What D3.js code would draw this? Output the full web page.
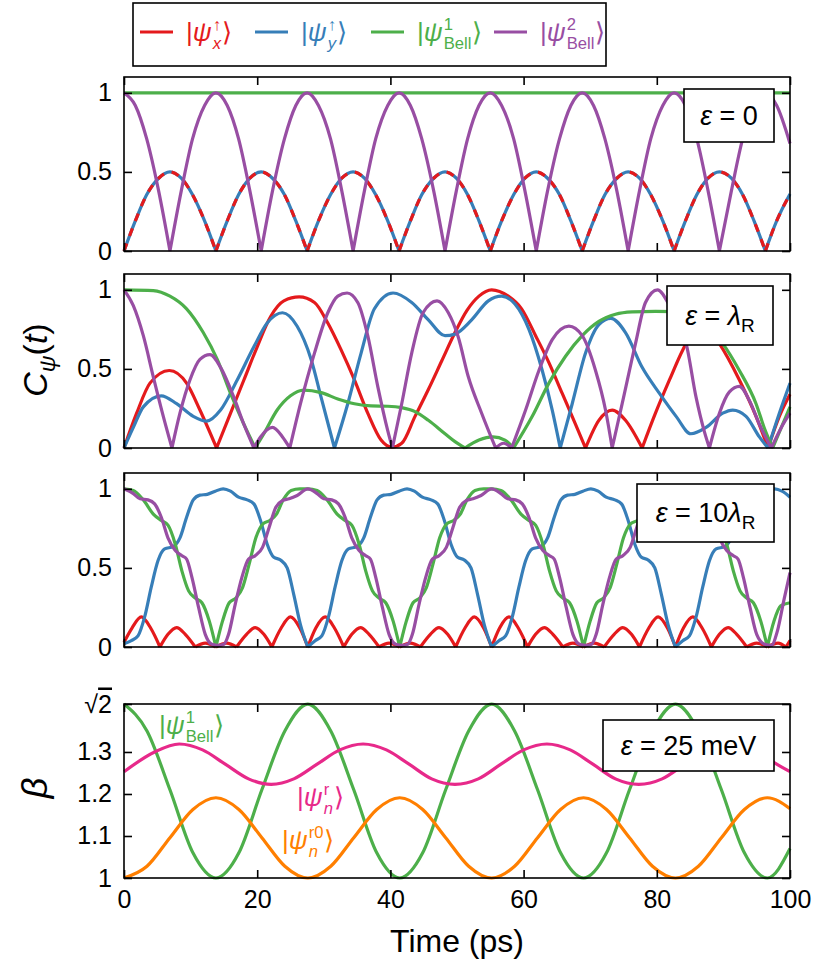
<!DOCTYPE html>
<html>
<head>
<meta charset="utf-8">
<script src="https://cdn.jsdelivr.net/npm/d3@7"></script>
<style>
  body { margin: 0; background: #fff; }
</style>
</head>
<body>
<div id="chart"></div>
<script>
// ---- values, t in ps ----
var timeTicks = [0, 20, 40, 60, 80, 100];
var cTicks = [0, 0.5, 1];
var betaTicks = [1, 1.1, 1.2, 1.3, Math.SQRT2];

// panel 1 : eps = 0  (x and y spin states lie on top of each other)
var p1SpinX = [[0,0],[1.7,0.19],[3.4,0.355],[5.2,0.46],[6.9,0.5],[8.6,0.46],[10.3,0.355],[12.1,0.19],[13.8,0],
  [15.5,0.19],[17.2,0.355],[18.9,0.46],[20.6,0.5],[22.3,0.46],[24.1,0.355],[25.8,0.19],[27.5,0],
  [29.2,0.19],[31,0.355],[32.7,0.46],[34.4,0.5],[36.1,0.46],[37.8,0.355],[39.6,0.19],[41.3,0],
  [43,0.19],[44.7,0.355],[46.5,0.46],[48.2,0.5],[49.9,0.46],[51.6,0.355],[53.3,0.19],[55,0],
  [56.7,0.19],[58.5,0.355],[60.2,0.46],[61.9,0.5],[63.6,0.46],[65.4,0.355],[67.1,0.19],[68.8,0],
  [70.5,0.19],[72.2,0.355],[74,0.46],[75.7,0.5],[77.4,0.46],[79.1,0.355],[80.9,0.19],[82.6,0],
  [84.3,0.19],[86,0.355],[87.7,0.46],[89.4,0.5],[91.2,0.46],[92.9,0.355],[94.6,0.19],[96.3,0],
  [98,0.19],[100,0.36]];
var p1SpinY = p1SpinX;
var p1Bell1 = [[0,1],[100,1]];
var p1Bell2 = [[0,1],[1.7,0.92],[3.4,0.71],[5.2,0.38],[6.9,0],
  [8.6,0.38],[10.3,0.71],[12.1,0.92],[13.8,1],[15.5,0.92],[17.2,0.71],[18.9,0.38],[20.6,0],
  [22.3,0.38],[24.1,0.71],[25.8,0.92],[27.5,1],[29.2,0.92],[31,0.71],[32.7,0.38],[34.4,0],
  [36.1,0.38],[37.8,0.71],[39.6,0.92],[41.3,1],[43,0.92],[44.7,0.71],[46.5,0.38],[48.2,0],
  [49.9,0.38],[51.6,0.71],[53.3,0.92],[55,1],[56.7,0.92],[58.5,0.71],[60.2,0.38],[61.9,0],
  [63.6,0.38],[65.4,0.71],[67.1,0.92],[68.8,1],[70.5,0.92],[72.2,0.71],[74,0.38],[75.7,0],
  [77.4,0.38],[79.1,0.71],[80.9,0.92],[82.6,1],[84.3,0.92],[86,0.71],[87.7,0.38],[89.4,0],
  [91.2,0.38],[92.9,0.71],[94.6,0.92],[96.3,1],[98,0.92],[100,0.68]];

// panel 2 : eps = lambda_R
var p2SpinX = [[0,0],[1.9,0.22],[3.9,0.41],[6.8,0.49],[9.4,0.41],[11.4,0.24],[13.9,0],
  [16,0.22],[18,0.43],[20,0.64],[22,0.83],[24,0.93],[26.3,0.955],[28.6,0.92],[30.6,0.79],[32.6,0.62],
  [34.6,0.43],[36.6,0.22],[38.6,0.05],[40.2,0.005],[41.7,0.03],[43.7,0.2],[45.7,0.37],[47.7,0.55],
  [49.7,0.73],[51.5,0.87],[53.3,0.96],[55.2,1],[57.7,0.96],[59.7,0.88],[61.8,0.71],[63.8,0.54],
  [65.8,0.345],[67.8,0.15],[69.3,0],
  [71.3,0.175],[73.3,0.24],[75.3,0.175],[77.8,0],
  [79.8,0.22],[81.9,0.43],[83.9,0.62],[86.7,0.8],[89.4,0.66],[92.4,0.43],[94.9,0.2],[96.7,0],
  [98.4,0.2],[100,0.34]];
var p2SpinY = [[0,0],[1.4,0.13],[2.9,0.26],[5.6,0.33],[7.9,0.28],[10.4,0.2],[12.4,0.17],[14.5,0.24],
  [17,0.43],[19.5,0.64],[21.5,0.79],[23.8,0.855],[26,0.77],[28.1,0.56],[29.6,0.32],[31.6,0],
  [33.6,0.28],[35.6,0.6],[37.6,0.88],[40.4,0.98],[43.2,0.92],[45.7,0.81],[48.2,0.71],[49.7,0.72],
  [52.2,0.81],[54.7,0.93],[56.7,0.96],[58.7,0.91],[60.8,0.75],[62.8,0.49],[64.3,0.24],[65.5,0],
  [67.3,0.28],[69.3,0.6],[71.3,0.78],[73.1,0.82],[75.3,0.73],[77.8,0.51],[80.4,0.345],[82.9,0.2],
  [85.1,0.09],[87.4,0.13],[89.9,0.22],[91.4,0.24],[93.4,0.2],[95.4,0.07],[96.7,0],
  [98.4,0.22],[100,0.41]];
var p2Bell1 = [[0,1],[4.4,0.995],[6.9,0.96],[9.4,0.88],[11.9,0.73],[14,0.56],[16,0.345],[18,0.15],[19.7,0],
  [21,0.09],[23,0.24],[25,0.33],[27,0.366],[29.6,0.35],[32.1,0.31],[34.6,0.28],[37.1,0.266],
  [39.6,0.264],[41.7,0.255],[43.7,0.23],[45.7,0.175],[48.2,0.09],[49.7,0.04],[51.2,0],
  [53.3,0.05],[55.4,0.07],[57.2,0.05],[58.5,0],
  [61.3,0.2],[63.8,0.41],[66.3,0.58],[68.8,0.71],[71.3,0.8],[73.8,0.845],[76.3,0.86],[79.8,0.864],
  [82.5,0.862],[85,0.84],[87.5,0.77],[89.9,0.66],[92.4,0.49],[94.9,0.28],[96.2,0.12],[97.4,0],
  [98.7,0.13],[100,0.26]];
var p2Bell2 = [[0,1],[1.4,0.9],[2.9,0.71],[4.4,0.45],[5.9,0.2],[7.2,0],
  [8.4,0.22],[9.9,0.43],[11.4,0.56],[12.9,0.59],[14.5,0.51],[16.5,0.32],[18,0.15],[19.5,0],
  [20.5,0.07],[22.3,0.13],[23.8,0.07],[24.9,0],
  [26.5,0.28],[28.6,0.6],[30.6,0.855],[32.1,0.96],[33.5,0.98],[35.1,0.92],[36.6,0.71],[38.1,0.39],[39.6,0.11],[40.3,0],
  [41.7,0.28],[43.2,0.6],[44.9,0.855],[47,0.93],[48.7,0.855],[50.2,0.7],[51.7,0.45],[53.7,0.22],[55.8,0],
  [57,0.03],[58.2,0],
  [60.3,0.24],[62.3,0.49],[64.3,0.685],[66.8,0.77],[68.8,0.71],[70.8,0.49],[72.3,0.24],[73.3,0],
  [74.8,0.28],[76.8,0.66],[78.3,0.92],[80.1,1],[81.9,0.9],[83.2,0.78],[84.4,0.66],[85.9,0.32],[87.1,0.11],[87.9,0],
  [89.4,0.22],[90.9,0.355],[92.4,0.39],[93.9,0.3],[95.4,0.15],[97.2,0],
  [98.7,0.13],[100,0.22]];

// panel 3 : eps = 10 lambda_R
var p3SpinX = [[0,0.03],[1.2,0.12],[2.6,0.19],[4,0.12],[5.4,0],[6.6,0.08],[7.9,0.123],[9.2,0.08],[10.7,0],
  [12.2,0.025],[13.8,0],[15.4,0.025],[16.9,0],[18.4,0.08],[19.7,0.123],[21,0.08],[22.2,0],[23.6,0.12],[25,0.19],[26.4,0.12],
  [27.6,0],[28.8,0.12],[30.2,0.19],[31.6,0.12],[33,0],[34.2,0.08],[35.5,0.123],[36.8,0.08],[38.3,0],
  [39.8,0.025],[41.4,0],[43,0.025],[44.5,0],[46,0.08],[47.3,0.123],[48.6,0.08],[49.8,0],[51.2,0.12],[52.6,0.19],[54,0.12],
  [55.2,0],[56.4,0.12],[57.8,0.19],[59.2,0.12],[60.6,0],[61.8,0.08],[63.1,0.123],[64.4,0.08],[65.9,0],
  [67.4,0.025],[69,0],[70.6,0.025],[72.1,0],[73.6,0.08],[74.9,0.123],[76.2,0.08],[77.4,0],[78.8,0.12],[80.2,0.19],[81.6,0.12],
  [82.8,0],[84,0.12],[85.4,0.19],[86.8,0.12],[88.2,0],[89.4,0.08],[90.7,0.123],[92,0.08],[93.5,0],
  [95,0.025],[96.6,0],[98.2,0.025],[99.4,0],[100,0.04]];
var p3SpinY = [[0,0.02],[1.1,0.04],[2.1,0.07],[3.1,0.19],[4.1,0.38],[5.1,0.545],[6.1,0.62],[7.4,0.635],[8.4,0.69],
  [9.4,0.82],[10.4,0.93],[11.4,0.96],[12.5,0.965],[13.7,0.985],[14.9,1],[16,0.985],[17.2,0.947],[18.5,0.93],
  [19.5,0.905],[20.5,0.8],[21.5,0.65],[22.5,0.567],[23.5,0.55],[24.5,0.5],[25.5,0.33],[26.5,0.14],
  [27.6,0],[28.7,0.04],[29.7,0.07],[30.7,0.19],[31.7,0.38],[32.7,0.545],[33.7,0.62],[35,0.635],[36,0.69],
  [37,0.82],[38,0.93],[39,0.96],[40.1,0.965],[41.3,0.985],[42.5,1],[43.6,0.985],[44.8,0.947],[46.1,0.93],
  [47.1,0.905],[48.1,0.8],[49.1,0.65],[50.1,0.567],[51.1,0.55],[52.1,0.5],[53.1,0.33],[54.1,0.14],
  [55.2,0],[56.3,0.04],[57.3,0.07],[58.3,0.19],[59.3,0.38],[60.3,0.545],[61.3,0.62],[62.6,0.635],[63.6,0.69],
  [64.6,0.82],[65.6,0.93],[66.6,0.96],[67.7,0.965],[68.9,0.985],[70.1,1],[71.2,0.985],[72.4,0.947],[73.7,0.93],
  [74.7,0.905],[75.7,0.8],[76.7,0.65],[77.7,0.567],[78.7,0.55],[79.7,0.5],[80.7,0.33],[81.7,0.14],
  [82.8,0],[83.9,0.04],[84.9,0.07],[85.9,0.19],[86.9,0.38],[87.9,0.545],[88.9,0.62],[90.2,0.635],[91.2,0.69],
  [92.2,0.82],[93.2,0.93],[94.2,0.96],[95.3,0.965],[96.5,0.985],[97.7,1],[98.8,0.985],[100,0.947]];
var p3Bell1 = [[0,1],[1.4,0.99],[2.9,0.93],[4.4,0.84],[5.6,0.8],[6.6,0.77],[7.7,0.65],[8.7,0.48],[9.7,0.355],
  [10.7,0.31],[11.7,0.28],[12.8,0.165],[13.8,0],[14.8,0.165],[15.8,0.28],[16.8,0.31],[17.8,0.375],[18.8,0.525],
  [19.8,0.69],[20.9,0.78],[21.9,0.8],[22.9,0.84],[23.9,0.93],[25.1,0.99],[26.4,1],
  [27.6,1],[29,0.99],[30.5,0.93],[32,0.84],[33.2,0.8],[34.2,0.77],[35.3,0.65],[36.3,0.48],[37.3,0.355],
  [38.3,0.31],[39.3,0.28],[40.4,0.165],[41.4,0],[42.4,0.165],[43.4,0.28],[44.4,0.31],[45.4,0.375],[46.4,0.525],
  [47.4,0.69],[48.5,0.78],[49.5,0.8],[50.5,0.84],[51.5,0.93],[52.7,0.99],[54,1],
  [55.2,1],[56.6,0.99],[58.1,0.93],[59.6,0.84],[60.8,0.8],[61.8,0.77],[62.9,0.65],[63.9,0.48],[64.9,0.355],
  [65.9,0.31],[66.9,0.28],[68,0.165],[69,0],[70,0.165],[71,0.28],[72,0.31],[73,0.375],[74,0.525],
  [75,0.69],[76.1,0.78],[77.1,0.8],[78.1,0.84],[79.1,0.93],[80.3,0.99],[81.6,1],
  [82.8,1],[84.2,0.99],[85.7,0.93],[87.2,0.84],[88.4,0.8],[89.4,0.77],[90.5,0.65],[91.5,0.48],[92.5,0.355],
  [93.5,0.31],[94.5,0.28],[95.6,0.165],[96.6,0],[97.6,0.165],[98.6,0.26],[100,0.28]];
var p3Bell2 = [[0,1],[1.4,0.97],[2.4,0.937],[3.6,0.93],[4.6,0.905],[5.6,0.82],[6.6,0.69],[7.7,0.61],[8.7,0.577],
  [9.4,0.556],[10.2,0.44],[11.2,0.25],[12.2,0.08],[13.2,0.017],[14.2,0.01],[15,0.017],[15.7,0.08],[16.7,0.27],
  [17.7,0.44],[18.7,0.556],[19.7,0.577],[20.8,0.63],[21.8,0.757],[22.8,0.884],[23.8,0.926],[24.8,0.937],[26,0.958],
  [27.6,1],[29,0.97],[30,0.937],[31.2,0.93],[32.2,0.905],[33.2,0.82],[34.2,0.69],[35.3,0.61],[36.3,0.577],
  [37,0.556],[37.8,0.44],[38.8,0.25],[39.8,0.08],[40.8,0.017],[41.8,0.01],[42.6,0.017],[43.3,0.08],[44.3,0.27],
  [45.3,0.44],[46.3,0.556],[47.3,0.577],[48.4,0.63],[49.4,0.757],[50.4,0.884],[51.4,0.926],[52.4,0.937],[53.6,0.958],
  [55.2,1],[56.6,0.97],[57.6,0.937],[58.8,0.93],[59.8,0.905],[60.8,0.82],[61.8,0.69],[62.9,0.61],[63.9,0.577],
  [64.6,0.556],[65.4,0.44],[66.4,0.25],[67.4,0.08],[68.4,0.017],[69.4,0.01],[70.2,0.017],[70.9,0.08],[71.9,0.27],
  [72.9,0.44],[73.9,0.556],[74.9,0.577],[76,0.63],[77,0.757],[78,0.884],[79,0.926],[80,0.937],[81.2,0.958],
  [82.8,1],[84.2,0.97],[85.2,0.937],[86.4,0.93],[87.4,0.905],[88.4,0.82],[89.4,0.69],[90.5,0.61],[91.5,0.577],
  [92.2,0.556],[93,0.44],[94,0.25],[95,0.08],[96.2,0.017],[97.2,0.01],[98.1,0.1],[99.1,0.3],[100,0.47]];

// panel 4 : beta at eps = 25 meV
var p4Bell1 = [[0,1.414],[3.45,1.35],[6.9,1.21],[10.35,1.06],[13.8,1],[17.25,1.06],[20.7,1.21],[24.15,1.35],
  [27.6,1.414],[31.05,1.35],[34.5,1.21],[37.95,1.06],[41.4,1],[44.85,1.06],[48.3,1.21],[51.75,1.35],
  [55.2,1.414],[58.65,1.35],[62.1,1.21],[65.55,1.06],[69,1],[72.45,1.06],[75.9,1.21],[79.35,1.35],
  [82.8,1.414],[86.25,1.35],[89.7,1.21],[93.15,1.06],[96.6,1],[100,1.07]];
var p4Rot = [[0,1.253],[4.6,1.3],[8.3,1.319],[11.8,1.305],[15.2,1.271],[18.7,1.236],[22.1,1.223],[25.5,1.236],
  [29,1.271],[32.4,1.305],[35.9,1.319],[39.4,1.305],[42.8,1.271],[46.2,1.236],[49.7,1.223],[53.2,1.236],
  [56.6,1.271],[60,1.305],[63.5,1.319],[67,1.305],[70.4,1.271],[73.8,1.236],[77.3,1.223],[80.8,1.236],
  [84.2,1.271],[87.6,1.305],[91.1,1.319],[94.6,1.305],[98,1.271],[100,1.253]];
var p4Rot0 = [[0,1],[3.45,1.028],[6.9,1.096],[10.35,1.163],[13.8,1.191],[17.25,1.163],[20.7,1.096],[24.15,1.028],
  [27.6,1],[31.05,1.028],[34.5,1.096],[37.95,1.163],[41.4,1.191],[44.85,1.163],[48.3,1.096],[51.75,1.028],
  [55.2,1],[58.65,1.028],[62.1,1.096],[65.55,1.163],[69,1.191],[72.45,1.163],[75.9,1.096],[79.35,1.028],
  [82.8,1],[86.25,1.028],[89.7,1.096],[93.15,1.163],[96.6,1.191],[100,1.165]];

// ---- layout ----
var width = 830, height = 965;
var left = 124, pw = 666, ph = 174;
var tops = [77, 274, 473, 704];
var font = "'Liberation Sans', Arial, Helvetica, sans-serif";
var col = { red: "#e41a1c", blue: "#377eb8", green: "#4daf4a", purple: "#984ea3", pink: "#e7298a", orange: "#ff7f00" };

var svg = d3.select("#chart").append("svg")
    .attr("width", width)
    .attr("height", height)
    .attr("font-family", font);

var x = d3.scaleLinear().domain([0, 100]).range([0, pw]);

// cut a series where it touches zero so the |amplitude| cusps stay sharp
function splitAtZeros(data) {
  var out = [], cur = [];
  data.forEach(function(d, i) {
    cur.push(d);
    if (d[1] === 0 && i > 0 && i < data.length - 1) { out.push(cur); cur = [d]; }
  });
  out.push(cur);
  return out;
}

function drawSeries(g, y, data, color, split, dash) {
  var line = d3.line()
      .x(function(d) { return x(d[0]); })
      .y(function(d) { return y(d[1]); })
      .curve(d3.curveMonotoneX);
  var segs = split ? splitAtZeros(data) : [data];
  g.append("path")
      .attr("d", segs.map(function(s) { return line(s); }).join(""))
      .attr("fill", "none")
      .attr("stroke", color)
      .attr("stroke-width", 3.2)
      .attr("stroke-linejoin", "round")
      .attr("stroke-dasharray", dash || null);
}

function drawAxes(g, y, yTicks, yFmt, showX) {
  var yAxis = g.append("g")
      .call(d3.axisLeft(y).tickValues(yTicks).tickSize(-8).tickPadding(12).tickFormat(yFmt));
  g.append("g")
      .attr("transform", "translate(" + pw + ",0)")
      .call(d3.axisRight(y).tickValues(yTicks).tickSize(-8).tickFormat(""));
  g.append("g")
      .call(d3.axisTop(x).tickValues(timeTicks).tickSize(-8).tickFormat(""));
  g.append("g")
      .attr("transform", "translate(0," + ph + ")")
      .call(d3.axisBottom(x).tickValues(timeTicks).tickSize(-8).tickPadding(12)
        .tickFormat(showX ? d3.format("d") : ""));
  g.selectAll(".domain").remove();
  g.selectAll(".tick line").attr("stroke", "#000").attr("stroke-width", 1.6);
  g.selectAll(".tick text").attr("fill", "#000").attr("font-size", 25).attr("font-family", font);
  g.append("rect")
      .attr("width", pw).attr("height", ph)
      .attr("fill", "none").attr("stroke", "#000").attr("stroke-width", 1.6);
  return yAxis;
}

// |psi> with a stacked sub / superscript
function ket(g, x0, y0, sub, sup, color, fs, subItalic) {
  var t = g.append("text").attr("x", x0).attr("y", y0).attr("fill", color).attr("font-size", fs);
  t.append("tspan").text("|");
  t.append("tspan").attr("font-style", "italic").text("ψ");
  var w = t.node().getComputedTextLength();
  var s = fs * 0.64;
  var a = g.append("text").attr("x", x0 + w + 1).attr("y", y0 + fs * 0.3)
      .attr("font-size", s).attr("fill", color)
      .attr("font-style", subItalic ? "italic" : null).text(sub);
  var b = g.append("text").attr("x", x0 + w + 1).attr("y", y0 - fs * 0.42)
      .attr("font-size", s).attr("fill", color).text(sup);
  var w2 = Math.max(a.node().getComputedTextLength(), b.node().getComputedTextLength());
  g.append("text").attr("x", x0 + w + w2 + 2).attr("y", y0)
      .attr("font-size", fs).attr("fill", color).text("⟩");
}

// annotation box "eps = ..."
function epsBox(bx, by, bw, bh, parts) {
  svg.append("rect").attr("x", bx).attr("y", by).attr("width", bw).attr("height", bh)
      .attr("fill", "#fff").attr("stroke", "#000").attr("stroke-width", 1.6);
  var t = svg.append("text").attr("x", bx + bw / 2).attr("y", by + bh / 2 + 9)
      .attr("text-anchor", "middle").attr("font-size", 27);
  parts.forEach(function(p) {
    var ts = t.append("tspan").text(p.s);
    if (p.it) ts.attr("font-style", "italic");
    if (p.sub) ts.attr("font-size", 19).attr("dy", 7);
  });
}

var fmtC = function(d) { return String(d); };
var panels = [
  { series: [[p1SpinY, col.blue, null], [p1SpinX, col.red, "8,8"], [p1Bell1, col.green, null], [p1Bell2, col.purple, null]] },
  { series: [[p2SpinX, col.red, null], [p2SpinY, col.blue, null], [p2Bell1, col.green, null], [p2Bell2, col.purple, null]] },
  { series: [[p3SpinX, col.red, null], [p3SpinY, col.blue, null], [p3Bell1, col.green, null], [p3Bell2, col.purple, null]] }
];

panels.forEach(function(p, i) {
  var g = svg.append("g").attr("transform", "translate(" + left + "," + tops[i] + ")");
  var y = d3.scaleLinear().domain([0, 1.1]).range([ph, 0]);
  p.series.forEach(function(s) { drawSeries(g, y, s[0], s[1], true, s[2]); });
  drawAxes(g, y, cTicks, fmtC, false);
});

// beta panel
var g4 = svg.append("g").attr("transform", "translate(" + left + "," + tops[3] + ")");
var y4 = d3.scaleLinear().domain([1, Math.SQRT2]).range([ph, 0]);
drawSeries(g4, y4, p4Bell1, col.green, false);
drawSeries(g4, y4, p4Rot, col.pink, false);
drawSeries(g4, y4, p4Rot0, col.orange, false);
var betaAxis = drawAxes(g4, y4, betaTicks, function(d) { return d > 1.4 ? "" : String(d); }, true);
betaAxis.selectAll(".tick text").filter(function(d) { return d > 1.4; })
  .each(function() {
    var t = d3.select(this);
    t.append("tspan").text("√");
    t.append("tspan").style("text-decoration", "overline").text("2");
  });

// annotation boxes
epsBox(684, 89, 90, 53, [{ s: "ε", it: true }, { s: " = 0" }]);
epsBox(667, 286, 106, 59, [{ s: "ε", it: true }, { s: " = " }, { s: "λ", it: true }, { s: "R", sub: true }]);
epsBox(637, 484, 137, 58, [{ s: "ε", it: true }, { s: " = 10" }, { s: "λ", it: true }, { s: "R", sub: true }]);
epsBox(603, 720, 171, 51, [{ s: "ε", it: true }, { s: " = 25 meV" }]);

// curve labels in the beta panel
ket(svg, 159, 734, "Bell", "1", col.green, 26, false);
ket(svg, 297, 806, "n", "r", col.pink, 26, true);
ket(svg, 282, 849, "n", "r0", col.orange, 26, true);

// legend
svg.append("rect").attr("x", 133).attr("y", 3).attr("width", 473).attr("height", 63)
    .attr("fill", "#fff").attr("stroke", "#000").attr("stroke-width", 1.6);
var legendItems = [
  { color: col.red, sub: "x", sup: "↑", it: true },
  { color: col.blue, sub: "y", sup: "↑", it: true },
  { color: col.green, sub: "Bell", sup: "1", it: false },
  { color: col.purple, sub: "Bell", sup: "2", it: false }
];
var legendX = [140, 255, 371, 494];
legendItems.forEach(function(d, i) {
  svg.append("line")
      .attr("x1", legendX[i]).attr("x2", legendX[i] + 33)
      .attr("y1", 32).attr("y2", 32)
      .attr("stroke", d.color).attr("stroke-width", 3.2);
  ket(svg, legendX[i] + 46, 41, d.sub, d.sup, d.color, 26, d.it);
});

// axis titles
var cl = svg.append("text")
    .attr("transform", "translate(47,360) rotate(-90)")
    .attr("text-anchor", "middle").attr("font-size", 34);
cl.append("tspan").attr("font-style", "italic").text("C");
cl.append("tspan").attr("font-style", "italic").attr("font-size", 23).attr("dy", 8).text("ψ");
cl.append("tspan").attr("dy", -8).text("(");
cl.append("tspan").attr("font-style", "italic").text("t");
cl.append("tspan").text(")");

svg.append("text")
    .attr("transform", "translate(47,788) rotate(-90)")
    .attr("text-anchor", "middle").attr("font-size", 36)
    .attr("font-style", "italic").text("β");

svg.append("text")
    .attr("x", left + pw / 2).attr("y", 952)
    .attr("text-anchor", "middle").attr("font-size", 32)
    .text("Time (ps)");
</script>
</body>
</html>
